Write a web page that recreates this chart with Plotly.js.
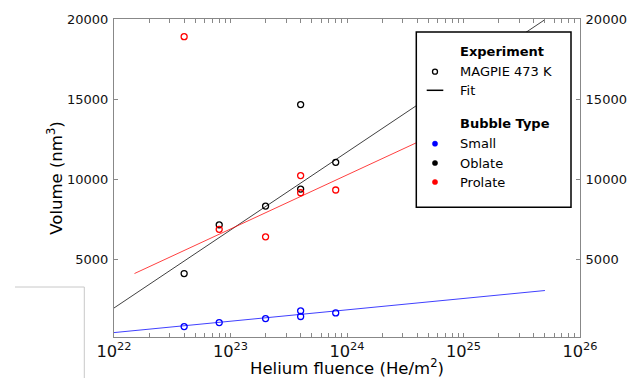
<!DOCTYPE html>
<html>
<head>
<meta charset="utf-8">
<script src="https://cdn.plot.ly/plotly-3.0.1.min.js"></script>
<style>html,body{margin:0;padding:0;background:#fff;}#chart{width:634px;height:378px;}</style>
</head>
<body>
<div id="chart"></div>
<script>
// ---- data ----
const fluence = [4e22, 8e22, 2e23, 4e23, 4e23, 8e23];
const smallVol = [810, 1060, 1310, 1790, 1440, 1660];
const oblateVol = [4120, 7160, 8330, 14660, 9390, 11060];
const prolateVol = [18900, 6880, 6410, 10230, 9160, 9330];

const fitSmallX = [1e22, 5e25];
const fitSmallY = [435, 3060];
const fitOblateX = [1e22, 5e25];
const fitOblateY = [1970, 19960];
const fitProlateX = [1.5e22, 5e25];
const fitProlateY = [4120, 16000];

const yTicks = [5000, 10000, 15000, 20000];
const legendExpLabels = ["MAGPIE 473 K", "Fit"];
const legendTypeLabels = ["Small", "Oblate", "Prolate"];
const legendTypeColors = ["#0000ff", "#000000", "#ff0000"];

// ---- layout helpers (pixel -> paper) ----
const W = 634, H = 378;
const mL = 114, mR = 54, mT = 19, mB = 41;
const pw = W - mL - mR, ph = H - mT - mB;
const px = x => (x - mL) / pw;
const py = y => (H - mB - y) / ph;

const font = "DejaVu Sans, Verdana, sans-serif";
const axisCol = "#888888";

function scat(x, y, color) {
  return {x: x, y: y, type: "scatter", mode: "markers", showlegend: false, hoverinfo: "skip",
    marker: {symbol: "circle-open", size: 6, color: color, line: {width: 1.3, color: color}}};
}
function fit(x, y, color) {
  return {x: x, y: y, type: "scatter", mode: "lines", showlegend: false, hoverinfo: "skip",
    line: {color: color, width: 1}};
}

const traces = [
  fit(fitOblateX, fitOblateY, "rgba(0,0,0,0.75)"),
  fit(fitProlateX, fitProlateY, "rgba(255,0,0,0.75)"),
  fit(fitSmallX, fitSmallY, "rgba(0,0,255,0.75)"),
  scat(fluence, smallVol, "#0000ff"),
  scat(fluence, oblateVol, "#000000"),
  scat(fluence, prolateVol, "#ff0000"),
  {x: [1e22], y: [null], yaxis: "y2", type: "scatter", mode: "markers", showlegend: false, hoverinfo: "skip"}
];

const shapes = [];
const annotations = [];
// stray gray frame fragment at bottom-left
shapes.push({type: "line", xref: "paper", yref: "paper", x0: px(15), x1: px(84.3), y0: py(287), y1: py(287), line: {color: "#c8c8c8", width: 1}});
shapes.push({type: "line", xref: "paper", yref: "paper", x0: px(84.3), x1: px(84.3), y0: py(287), y1: py(380), line: {color: "#c8c8c8", width: 1}});
// legend box
shapes.push({type: "rect", xref: "paper", yref: "paper", layer: "above", x0: px(416.3), x1: px(571), y0: py(207.3), y1: py(32),
  fillcolor: "#ffffff", line: {color: "#000000", width: 1.5}});
function dot(cx, cy, r, color, filled) {
  shapes.push({type: "circle", xref: "paper", yref: "paper", layer: "above",
    x0: px(cx - r), x1: px(cx + r), y0: py(cy + r), y1: py(cy - r),
    fillcolor: filled ? color : "#ffffff", line: {color: color, width: filled ? 0.5 : 1.3}});
}
function label(text, x, y, bold) {
  annotations.push({text: bold ? "<b>" + text + "</b>" : text, xref: "paper", yref: "paper", x: px(x), y: py(y),
    xanchor: "left", yanchor: "middle", showarrow: false, font: {family: font, size: 13, color: "#000"}});
}
label("Experiment", 458, 51.7, true);
label(legendExpLabels[0], 458, 71.7, false);
dot(435, 71.7, 2.5, "#000000", false);
label(legendExpLabels[1], 458, 90.3, false);
shapes.push({type: "line", xref: "paper", yref: "paper", layer: "above", x0: px(426.7), x1: px(443.3), y0: py(90.3), y1: py(90.3), line: {color: "#000", width: 1.5}});
label("Bubble Type", 458, 123.7, true);
const typeY = [143.7, 163, 182];
legendTypeLabels.forEach((t, i) => {
  label(t, 458, typeY[i], false);
  dot(435, typeY[i], 2.6, legendTypeColors[i], true);
});

const yCommon = {
  range: [160, 20000], tickvals: yTicks, ticktext: yTicks.map(String),
  ticks: "inside", ticklen: 4, tickcolor: axisCol, showgrid: false, zeroline: false,
  showline: true, linecolor: axisCol, linewidth: 1,
  tickfont: {family: font, size: 13, color: "#111"}, ticklabelstandoff: 2
};

const layout = {
  width: W, height: H,
  margin: {l: mL, r: mR, t: mT, b: mB, pad: 0},
  paper_bgcolor: "#ffffff", plot_bgcolor: "#ffffff",
  showlegend: false,
  font: {family: font, color: "#000"},
  xaxis: {
    type: "log", range: [22, 26], dtick: 1, exponentformat: "power",
    ticks: "inside", ticklen: 4, tickcolor: axisCol, mirror: "allticks",
    showline: true, linecolor: axisCol, linewidth: 1, showgrid: false, zeroline: false,
    minor: {ticks: "inside", ticklen: 2, tickcolor: axisCol, showgrid: false},
    tickfont: {family: font, size: 13, color: "#111"},
    title: {text: "Helium fluence (He/m<sup>2</sup>)", font: {family: font, size: 16.5, color: "#000"}, standoff: 6},
    automargin: false
  },
  yaxis: Object.assign({}, yCommon, {
    side: "left", automargin: false,
    title: {text: "Volume (nm<sup>3</sup>)", font: {family: font, size: 16.5, color: "#000"}, standoff: 0}
  }),
  yaxis2: Object.assign({}, yCommon, {side: "right", overlaying: "y", automargin: false}),
  shapes: shapes,
  annotations: annotations
};

Plotly.newPlot("chart", traces, layout, {staticPlot: true, displayModeBar: false});
</script>
</body>
</html>
